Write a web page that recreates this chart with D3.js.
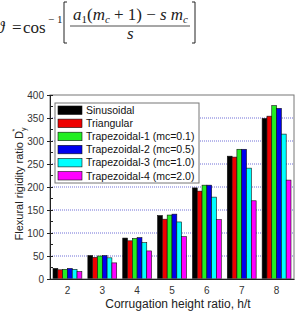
<!DOCTYPE html>
<html>
<head>
<meta charset="utf-8">
<script src="https://cdn.jsdelivr.net/npm/d3@7"></script>
<style>
  body { margin: 0; background: #fff; }
  svg { display: block; }
  .tick text { font-family: "Liberation Sans", Arial, sans-serif; font-size: 10px; fill: #333; }
  .axisLabel { font-family: "Liberation Sans", Arial, sans-serif; font-size: 11px; fill: #222; }
  .legendText { font-family: "Liberation Sans", Arial, sans-serif; font-size: 10.5px; fill: #111; }
  .formula { font-family: "Liberation Serif", "DejaVu Serif", serif; font-size: 17px; fill: #222; }
</style>
</head>
<body>
<div id="graph"></div>
<script>
// data
var categories = ['2', '3', '4', '5', '6', '7', '8'];
var seriesNames = ['Sinusoidal', 'Triangular', 'Trapezoidal-1 (mc=0.1)', 'Trapezoidal-2 (mc=0.5)',
                   'Trapezoidal-3 (mc=1.0)', 'Trapezoidal-4 (mc=2.0)'];
var sinusoidal = [23, 51, 89, 138, 198, 267, 349];
var triangular = [20, 47, 83, 130, 191, 265, 354];
var trap1      = [21, 50, 88, 139, 204, 282, 377];
var trap2      = [23, 51, 90, 141, 204, 282, 371];
var trap3      = [21, 46, 79, 124, 178, 241, 315];
var trap4      = [16, 35, 61, 92, 129, 170, 215];
var seriesValues = [sinusoidal, triangular, trap1, trap2, trap3, trap4];
var colors = ['#000000', '#ee0000', '#22ee22', '#0000ee', '#00ffff', '#ff00ff'];
var yTicks = [0, 50, 100, 150, 200, 250, 300, 350, 400];
var gridValues = [50, 100, 150, 200, 250, 300, 350];

var W = 302, H = 311;
var margin = { top: 95, right: 8, bottom: 32, left: 50 };
var width  = W - margin.left - margin.right;
var height = H - margin.top - margin.bottom;

var svg = d3.select('div#graph').append('svg')
            .attr('width', W).attr('height', H);

// formula above the chart
var f = svg.append('g').attr('class', 'formula');
f.append('text').attr('x', -4).attr('y', 33).style('font-style', 'italic').text('\u03D1');
f.append('text').attr('x', 12).attr('y', 33).text('=');
f.append('text').attr('x', 23).attr('y', 33).text('cos');
f.append('text').attr('x', 48).attr('y', 23).style('font-size', '11px').text('\u2212 1');
var num = f.append('text').attr('x', 73).attr('y', 20)
           .attr('textLength', 115).attr('lengthAdjust', 'spacing');
num.append('tspan').style('font-style', 'italic').text('a');
num.append('tspan').attr('dy', 3).style('font-size', '11px').text('1');
num.append('tspan').attr('dy', -3).text('(');
num.append('tspan').style('font-style', 'italic').text('m');
num.append('tspan').attr('dy', 3).style('font-size', '11px').style('font-style', 'italic').text('c');
num.append('tspan').attr('dy', -3).text(' + 1) \u2212 ');
num.append('tspan').style('font-style', 'italic').text('s m');
num.append('tspan').attr('dy', 3).style('font-size', '11px').style('font-style', 'italic').text('c');
f.append('text').attr('x', 127).attr('y', 39).style('font-style', 'italic').text('s');
f.append('line').attr('x1', 70).attr('x2', 190).attr('y1', 26).attr('y2', 26)
 .attr('stroke', '#222').attr('stroke-width', 0.8);
f.append('path').attr('d', 'M67,2 H64 V43 H67').attr('fill', 'none').attr('stroke', '#222');
f.append('path').attr('d', 'M192,2 H195 V43 H192').attr('fill', 'none').attr('stroke', '#222');

var g = svg.append('g').attr('transform', 'translate(' + margin.left + ',' + margin.top + ')');

var x0 = d3.scaleBand().domain(categories).range([0, width]).padding(0);
var x1 = d3.scaleBand().domain(d3.range(seriesNames.length))
           .range([3, x0.bandwidth() - 3]).padding(0);
var y = d3.scaleLinear().domain([0, 400]).range([height, 0]);

// grid
g.selectAll('.grid').data(gridValues).enter().append('line')
 .attr('x1', 0).attr('x2', width)
 .attr('y1', d => y(d)).attr('y2', d => y(d))
 .attr('stroke', '#7070d8').attr('stroke-width', 1).attr('stroke-dasharray', '1,1');

// bars
categories.forEach(function (c, ci) {
    g.selectAll('.bar' + ci).data(seriesValues.map((s, si) => ({ si: si, v: s[ci] })))
     .enter().append('rect')
     .attr('x', d => x0(c) + x1(d.si))
     .attr('y', d => y(d.v))
     .attr('width', x1.bandwidth())
     .attr('height', d => height - y(d.v))
     .attr('fill', d => colors[d.si])
     .attr('stroke', '#111').attr('stroke-width', 0.6);
});

// frame
g.append('rect').attr('x', 0).attr('y', 0).attr('width', width).attr('height', height)
 .attr('fill', 'none').attr('stroke', '#777').attr('stroke-width', 1);

// axes
var yAxis = d3.axisLeft(y).tickValues(yTicks).tickSize(3).tickPadding(3);
var ya = g.append('g').call(yAxis);
ya.select('.domain').attr('stroke', '#222');
ya.selectAll('.tick line').attr('x2', 3).attr('x1', -3).attr('stroke', '#222');
g.selectAll('.minor').data(d3.range(25, 400, 50)).enter().append('line')
 .attr('x1', 0).attr('x2', 3).attr('y1', d => y(d)).attr('y2', d => y(d)).attr('stroke', '#222');

var xAxis = d3.axisBottom(x0).tickSize(0).tickPadding(8);
var xa = g.append('g').attr('transform', 'translate(0,' + height + ')').call(xAxis);
xa.select('.domain').attr('stroke', '#222');

// labels
var yl = g.append('text').attr('class', 'axisLabel')
          .attr('transform', 'rotate(-90)')
          .attr('x', -height / 2 + 3).attr('y', -27)
          .style('text-anchor', 'middle');
yl.append('tspan').text('Flexural rigidity ratio D');
yl.append('tspan').attr('dy', 3).style('font-size', '7px').text('y');
yl.append('tspan').attr('dx', -4).attr('dy', -9).style('font-size', '7px').text('*');

g.append('text').attr('class', 'axisLabel')
 .attr('x', width / 2 + 6).attr('y', height + 29)
 .style('text-anchor', 'middle').style('font-size', '12px')
 .text('Corrugation height ratio, h/t');

// legend
var lg = g.append('g').attr('transform', 'translate(5,8)');
lg.append('rect').attr('width', 144).attr('height', 80)
  .attr('fill', '#fff').attr('stroke', '#777');
seriesNames.forEach(function (name, i) {
    lg.append('rect').attr('x', 3).attr('y', 3 + i * 13.1)
      .attr('width', 24).attr('height', 8.5)
      .attr('fill', colors[i]).attr('stroke', '#111').attr('stroke-width', 0.6);
    lg.append('text').attr('class', 'legendText')
      .attr('x', 31).attr('y', 11 + i * 13.1).text(name);
});
</script>
</body>
</html>
